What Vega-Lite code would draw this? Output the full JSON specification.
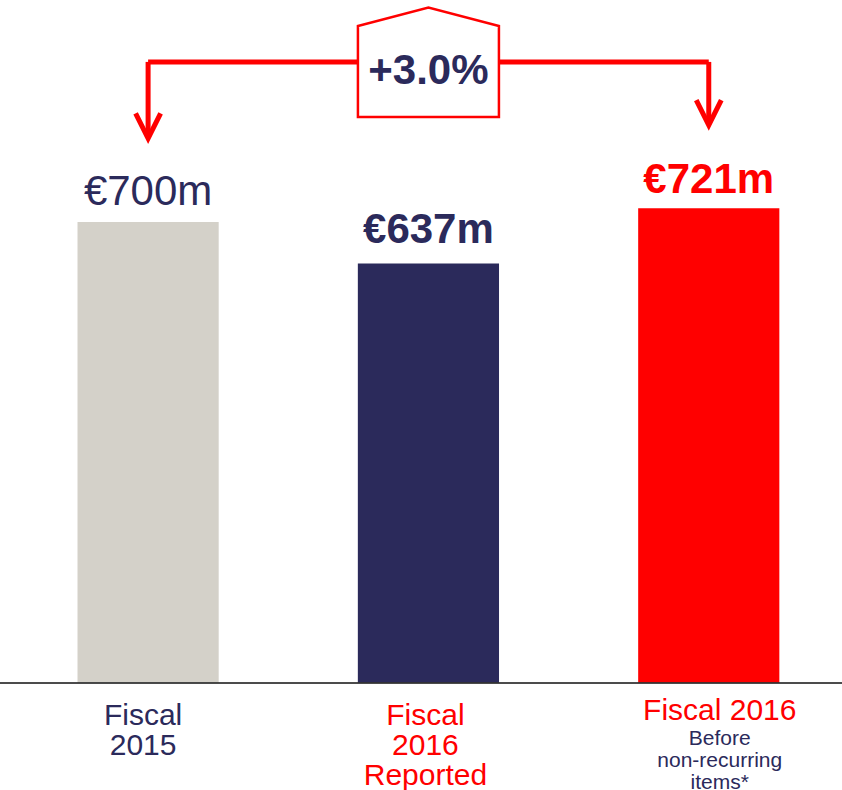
{
  "$schema": "https://vega.github.io/schema/vega-lite/v6.json",
  "width": 842,
  "height": 683,
  "autosize": {"type": "none"},
  "padding": {"left": 0, "top": 0, "right": 0, "bottom": 107},
  "background": "white",
  "config": {"view": {"stroke": null}, "font": "Liberation Sans"},
  "datasets": {
    "bars": [
      {"cat": "Fiscal 2015", "value": 700, "label": "€700m", "axisLabel": "Fiscal\n2015"},
      {"cat": "Fiscal 2016 Reported", "value": 637, "label": "€637m", "axisLabel": "Fiscal\n2016\nReported"},
      {"cat": "Fiscal 2016 Before non-recurring items", "value": 721, "label": "€721m", "axisLabel": "Fiscal 2016", "subLabel": "Before\nnon-recurring\nitems*"}
    ],
    "bracket": [
      {"from": "Fiscal 2015", "to": "Fiscal 2016 Before non-recurring items", "level": 943}
    ],
    "arrows": [
      {"cat": "Fiscal 2015", "level": 943, "tip": 830, "head": 846},
      {"cat": "Fiscal 2016 Before non-recurring items", "level": 943, "tip": 850, "head": 866}
    ],
    "growth": [
      {"cat": "Fiscal 2016 Reported", "level": 943, "label": "+3.0%"}
    ]
  },
  "layer": [
    {
      "data": {"name": "bars"},
      "mark": {"type": "bar"},
      "encoding": {
        "x": {"field": "cat", "type": "nominal", "sort": null,
          "scale": {"domain": ["Fiscal 2015", "Fiscal 2016 Reported", "Fiscal 2016 Before non-recurring items"], "paddingInner": 0.4964, "paddingOuter": 0.25, "align": 0.553},
          "axis": null},
        "y": {"field": "value", "type": "quantitative", "scale": {"domain": [0, 1037], "nice": false}, "axis": null},
        "color": {"field": "cat", "type": "nominal", "legend": null,
          "scale": {"domain": ["Fiscal 2015", "Fiscal 2016 Reported", "Fiscal 2016 Before non-recurring items"], "range": ["#d4d1c9", "#2b2a5b", "#ff0000"]}}
      }
    },
    {
      "data": {"name": "bars"},
      "mark": {"type": "rule", "stroke": "#333333", "strokeWidth": 1},
      "encoding": {
        "y": {"datum": 0, "type": "quantitative", "axis": null}
      }
    },
    {
      "data": {"name": "bracket"},
      "mark": {"type": "rule", "stroke": "#ff0000", "strokeWidth": 5},
      "encoding": {
        "x": {"field": "from", "type": "nominal", "axis": null},
        "x2": {"field": "to"},
        "y": {"field": "level", "type": "quantitative", "axis": null}
      }
    },
    {
      "data": {"name": "arrows"},
      "mark": {"type": "rule", "stroke": "#ff0000", "strokeWidth": 5},
      "encoding": {
        "x": {"field": "cat", "type": "nominal", "axis": null},
        "y": {"field": "level", "type": "quantitative", "axis": null},
        "y2": {"field": "tip"}
      }
    },
    {
      "data": {"name": "arrows"},
      "mark": {"type": "point", "shape": "M-1,-1L0,1L1,-1", "size": 625, "filled": false, "stroke": "#ff0000", "strokeWidth": 5, "opacity": 1},
      "encoding": {
        "x": {"field": "cat", "type": "nominal", "axis": null},
        "y": {"field": "head", "type": "quantitative", "axis": null}
      }
    },
    {
      "data": {"name": "growth"},
      "mark": {"type": "point", "shape": "M-1,0.78L-1,-0.51L0,-0.77L1,-0.51L1,0.78Z", "size": 19881, "filled": true, "fill": "#ffffff", "stroke": "#ff0000", "strokeWidth": 2.5, "opacity": 1},
      "encoding": {
        "x": {"field": "cat", "type": "nominal", "axis": null},
        "y": {"field": "level", "type": "quantitative", "axis": null}
      }
    },
    {
      "data": {"name": "growth"},
      "mark": {"type": "text", "fontSize": 42, "fontWeight": "bold", "color": "#2b2a5b", "align": "center", "baseline": "alphabetic", "dy": 22},
      "encoding": {
        "x": {"field": "cat", "type": "nominal", "axis": null},
        "y": {"field": "level", "type": "quantitative", "axis": null},
        "text": {"field": "label"}
      }
    },
    {
      "data": {"name": "bars"},
      "transform": [{"filter": "datum.cat == 'Fiscal 2015'"}],
      "mark": {"type": "text", "fontSize": 42, "fontWeight": "normal", "color": "#2b2a5b", "align": "center", "baseline": "alphabetic", "dy": -17},
      "encoding": {
        "x": {"field": "cat", "type": "nominal", "axis": null},
        "y": {"field": "value", "type": "quantitative", "axis": null},
        "text": {"field": "label"}
      }
    },
    {
      "data": {"name": "bars"},
      "transform": [{"filter": "datum.cat == 'Fiscal 2016 Reported'"}],
      "mark": {"type": "text", "fontSize": 42, "fontWeight": "bold", "color": "#2b2a5b", "align": "center", "baseline": "alphabetic", "dy": -20},
      "encoding": {
        "x": {"field": "cat", "type": "nominal", "axis": null},
        "y": {"field": "value", "type": "quantitative", "axis": null},
        "text": {"field": "label"}
      }
    },
    {
      "data": {"name": "bars"},
      "transform": [{"filter": "datum.cat == 'Fiscal 2016 Before non-recurring items'"}],
      "mark": {"type": "text", "fontSize": 42, "fontWeight": "bold", "color": "#ff0000", "align": "center", "baseline": "alphabetic", "dy": -15},
      "encoding": {
        "x": {"field": "cat", "type": "nominal", "axis": null},
        "y": {"field": "value", "type": "quantitative", "axis": null},
        "text": {"field": "label"}
      }
    },
    {
      "data": {"name": "bars"},
      "transform": [{"filter": "datum.cat == 'Fiscal 2015'"}],
      "mark": {"type": "text", "fontSize": 30, "lineHeight": 30, "lineBreak": "\n", "color": "#2b2a5b", "align": "center", "baseline": "alphabetic", "dy": 42, "dx": -5},
      "encoding": {
        "x": {"field": "cat", "type": "nominal", "axis": null},
        "y": {"datum": 0, "type": "quantitative", "axis": null},
        "text": {"field": "axisLabel"}
      }
    },
    {
      "data": {"name": "bars"},
      "transform": [{"filter": "datum.cat == 'Fiscal 2016 Reported'"}],
      "mark": {"type": "text", "fontSize": 30, "lineHeight": 30, "lineBreak": "\n", "color": "#ff0000", "align": "center", "baseline": "alphabetic", "dy": 42, "dx": -3},
      "encoding": {
        "x": {"field": "cat", "type": "nominal", "axis": null},
        "y": {"datum": 0, "type": "quantitative", "axis": null},
        "text": {"field": "axisLabel"}
      }
    },
    {
      "data": {"name": "bars"},
      "transform": [{"filter": "datum.cat == 'Fiscal 2016 Before non-recurring items'"}],
      "mark": {"type": "text", "fontSize": 30, "color": "#ff0000", "align": "center", "baseline": "alphabetic", "dy": 37, "dx": 11},
      "encoding": {
        "x": {"field": "cat", "type": "nominal", "axis": null},
        "y": {"datum": 0, "type": "quantitative", "axis": null},
        "text": {"field": "axisLabel"}
      }
    },
    {
      "data": {"name": "bars"},
      "transform": [{"filter": "datum.cat == 'Fiscal 2016 Before non-recurring items'"}],
      "mark": {"type": "text", "fontSize": 21, "lineHeight": 22, "lineBreak": "\n", "color": "#2b2a5b", "align": "center", "baseline": "alphabetic", "dy": 62, "dx": 11},
      "encoding": {
        "x": {"field": "cat", "type": "nominal", "axis": null},
        "y": {"datum": 0, "type": "quantitative", "axis": null},
        "text": {"field": "subLabel"}
      }
    }
  ]
}
